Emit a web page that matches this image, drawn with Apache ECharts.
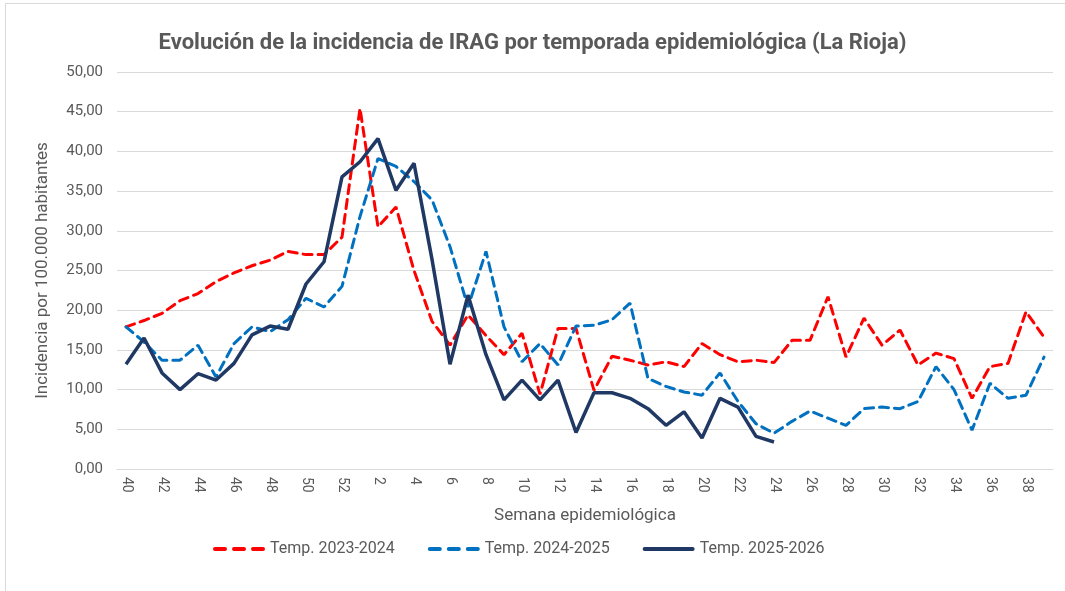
<!DOCTYPE html>
<html>
<head>
<meta charset="utf-8">
<script src="https://cdn.jsdelivr.net/npm/echarts@6/dist/echarts.min.js"></script>
<style>
  html, body { margin: 0; padding: 0; background: #fff; }
  #frame { position: absolute; left: 5px; top: 3px; width: 1070px; height: 600px; border: 1px solid #d9d9d9; box-sizing: border-box; }
  #chart { position: absolute; left: 0; top: 0; width: 1065px; height: 591px; }
</style>
</head>
<body>
<div id="frame"></div>
<div id="chart"></div>
<script>
// semanas epidemiologicas (40..52, 1..39)
const weeks = ["40","41","42","43","44","45","46","47","48","49","50","51","52",
  "1","2","3","4","5","6","7","8","9","10","11","12","13","14","15","16","17","18","19","20",
  "21","22","23","24","25","26","27","28","29","30","31","32","33","34","35","36","37","38","39"];

const temp2324 = [17.9, 18.7, 19.6, 21.2, 22.1, 23.6, 24.7, 25.6, 26.3, 27.4, 27.0, 27.0, 29.2,
  45.4, 30.5, 33.0, 25.0, 18.6, 15.6, 19.4, 16.8, 14.4, 17.1, 9.4, 17.7, 17.7, 9.9, 14.2, 13.7, 13.1, 13.5, 12.9, 15.8,
  14.4, 13.5, 13.7, 13.4, 16.2, 16.2, 21.7, 14.1, 19.0, 15.6, 17.5, 13.1, 14.6, 13.9, 8.9, 12.9, 13.3, 19.8, 16.6];

const temp2425 = [17.9, 16.0, 13.7, 13.7, 15.6, 11.6, 15.8, 17.9, 17.3, 18.8, 21.5, 20.4, 23.0,
  31.8, 39.1, 38.1, 36.2, 33.9, 28.0, 20.4, 27.4, 17.9, 13.5, 15.8, 13.1, 18.0, 18.1, 18.8, 20.9, 11.4, 10.4, 9.7, 9.3,
  12.1, 8.5, 5.7, 4.5, 6.0, 7.3, 6.4, 5.5, 7.6, 7.8, 7.6, 8.5, 12.9, 10.0, 4.9, 10.8, 8.9, 9.3, 14.1];

const temp2526 = [13.2, 16.5, 12.1, 10.0, 12.0, 11.2, 13.3, 16.9, 18.0, 17.6, 23.3, 26.1, 36.8,
  38.7, 41.6, 35.1, 38.5, 26.4, 13.2, 21.9, 14.4, 8.7, 11.2, 8.7, 11.2, 4.6, 9.6, 9.6, 8.9, 7.6, 5.5, 7.2, 3.9,
  8.9, 7.8, 4.1, 3.4];

const seriesNames = ["Temp. 2023-2024", "Temp. 2024-2025", "Temp. 2025-2026"];
const colors = ["#FF0000", "#0070C0", "#203864"];

const font = "Roboto, sans-serif";
const grey = "#595959";

// iconos de la leyenda: tres guiones / linea continua
const dashIcon = "path://M2,0h10a2,2 0 0 1 0,4h-10a2,2 0 0 1 0,-4z M21,0h10a2,2 0 0 1 0,4h-10a2,2 0 0 1 0,-4z M40,0h10a2,2 0 0 1 0,4h-10a2,2 0 0 1 0,-4z";
const solidIcon = "path://M2,0h48a2,2 0 0 1 0,4h-48a2,2 0 0 1 0,-4z";

const chart = echarts.init(document.getElementById("chart"));

const option = {
  animation: false,
  title: {
    text: "Evolución de la incidencia de IRAG por temporada epidemiológica (La Rioja)",
    left: "center",
    top: 27,
    textStyle: { fontFamily: font, fontSize: 22, fontWeight: "bold", color: grey }
  },
  legend: {
    top: 536,
    left: 208,
    itemWidth: 52,
    itemHeight: 4,
    itemGap: 33,
    textStyle: { fontFamily: font, fontSize: 16, color: grey },
    data: [
      { name: seriesNames[0], icon: dashIcon },
      { name: seriesNames[1], icon: dashIcon },
      { name: seriesNames[2], icon: solidIcon }
    ]
  },
  grid: { left: 117, right: 12, top: 72, bottom: 122 },
  xAxis: {
    type: "category",
    data: weeks,
    boundaryGap: true,
    name: "Semana epidemiológica",
    nameLocation: "middle",
    nameGap: 38,
    nameTextStyle: { fontFamily: font, fontSize: 17, color: grey },
    axisLine: { lineStyle: { color: "#d9d9d9" } },
    axisTick: { show: false },
    axisLabel: { interval: 1, rotate: -90, fontFamily: font, fontSize: 14, color: grey, margin: 8 }
  },
  yAxis: {
    type: "value",
    min: 0,
    max: 50,
    interval: 5,
    name: "Incidencia por 100.000 habitantes",
    nameLocation: "middle",
    nameGap: 66,
    nameTextStyle: { fontFamily: font, fontSize: 17, color: grey },
    axisLine: { show: false },
    axisTick: { show: false },
    splitLine: { lineStyle: { color: "#d9d9d9", width: 1 } },
    axisLabel: {
      fontFamily: font, fontSize: 15, color: grey, margin: 14,
      formatter: v => v.toFixed(2).replace(".", ",")
    }
  },
  series: [
    {
      name: seriesNames[0], type: "line", data: temp2324, symbol: "none",
      lineStyle: { color: colors[0], width: 3, type: [9, 6], cap: "round" },
      itemStyle: { color: colors[0] }
    },
    {
      name: seriesNames[1], type: "line", data: temp2425, symbol: "none",
      lineStyle: { color: colors[1], width: 3, type: [9, 6], cap: "round" },
      itemStyle: { color: colors[1] }
    },
    {
      name: seriesNames[2], type: "line", data: temp2526, symbol: "none",
      lineStyle: { color: colors[2], width: 3.5 },
      itemStyle: { color: colors[2] }
    }
  ]
};

chart.setOption(option);
</script>
</body>
</html>
